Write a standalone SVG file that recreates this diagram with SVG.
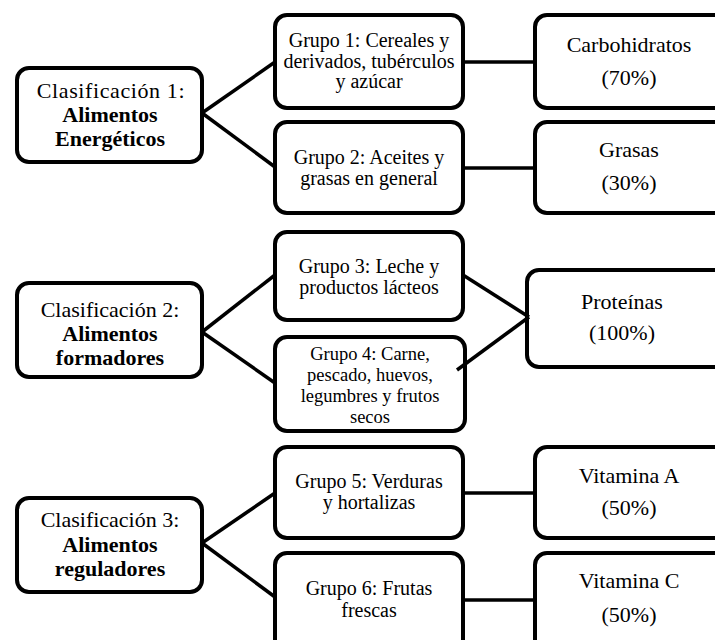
<svg xmlns="http://www.w3.org/2000/svg" width="715" height="640" viewBox="0 0 715 640">
<style>
.box{fill:#fff;stroke:#000;stroke-width:4}
.t{font-family:"Liberation Serif","Times New Roman",serif;font-size:22px;fill:#000;text-anchor:middle}
.g{font-size:20px}
.s{font-size:18.5px}
.b{font-weight:bold}
.ln{stroke:#000;stroke-width:3.5;fill:none}
</style>
<rect width="715" height="640" fill="#fff"/>
<g id="clasif1">
<rect class="box" x="17" y="68" width="185" height="94" rx="12"/>
<text class="t" x="111" y="98" letter-spacing="0.6">Clasificación 1:</text>
<text class="t b" x="110" y="122">Alimentos</text>
<text class="t b" x="110" y="146">Energéticos</text>
</g>
<g id="grupo1">
<rect class="box" x="275" y="15" width="188" height="93" rx="12"/>
<text class="t g" x="369" y="47">Grupo 1: Cereales y</text>
<text class="t g" x="369" y="68">derivados, tubérculos</text>
<text class="t g" x="369" y="88">y azúcar</text>
</g>
<g id="grupo2">
<rect class="box" x="275" y="122" width="188" height="91" rx="12"/>
<text class="t g" x="369" y="164">Grupo 2: Aceites y</text>
<text class="t g" x="369" y="185">grasas en general</text>
</g>
<g id="carbohidratos">
<rect class="box" x="535" y="15" width="192" height="93" rx="12"/>
<text class="t" x="629" y="52">Carbohidratos</text>
<text class="t" x="629" y="85">(70%)</text>
</g>
<g id="grasas">
<rect class="box" x="535" y="122" width="192" height="91" rx="12"/>
<text class="t" x="629" y="157">Grasas</text>
<text class="t" x="629" y="190">(30%)</text>
</g>
<g id="clasif2">
<rect class="box" x="17" y="283" width="185" height="94" rx="12"/>
<text class="t" x="110" y="317">Clasificación 2:</text>
<text class="t b" x="110" y="341">Alimentos</text>
<text class="t b" x="110" y="365">formadores</text>
</g>
<g id="grupo3">
<rect class="box" x="275" y="232" width="188" height="88" rx="12"/>
<text class="t g" x="369" y="273">Grupo 3: Leche y</text>
<text class="t g" x="369" y="294">productos lácteos</text>
</g>
<g id="grupo4">
<rect class="box" x="275" y="337" width="190" height="94" rx="12"/>
<text class="t s" x="370" y="360">Grupo 4: Carne,</text>
<text class="t s" x="370" y="381">pescado, huevos,</text>
<text class="t s" x="370" y="402">legumbres y frutos</text>
<text class="t s" x="370" y="423">secos</text>
</g>
<g id="proteinas">
<rect class="box" x="527" y="270" width="200" height="97" rx="12"/>
<text class="t" x="622" y="309">Proteínas</text>
<text class="t" x="622" y="340">(100%)</text>
</g>
<g id="clasif3">
<rect class="box" x="17" y="498" width="185" height="94" rx="12"/>
<text class="t" x="110" y="527">Clasificación 3:</text>
<text class="t b" x="110" y="552">Alimentos</text>
<text class="t b" x="110" y="576">reguladores</text>
</g>
<g id="grupo5">
<rect class="box" x="275" y="447" width="188" height="91" rx="12"/>
<text class="t g" x="369" y="488">Grupo 5: Verduras</text>
<text class="t g" x="369" y="509">y hortalizas</text>
</g>
<g id="grupo6">
<rect class="box" x="275" y="553" width="188" height="100" rx="12"/>
<text class="t g" x="369" y="595">Grupo 6: Frutas</text>
<text class="t g" x="369" y="617">frescas</text>
</g>
<g id="vitaminaA">
<rect class="box" x="535" y="447" width="192" height="91" rx="12"/>
<text class="t" x="629" y="483">Vitamina A</text>
<text class="t" x="629" y="515">(50%)</text>
</g>
<g id="vitaminaC">
<rect class="box" x="535" y="553" width="192" height="100" rx="12"/>
<text class="t" x="629" y="588">Vitamina C</text>
<text class="t" x="629" y="622">(50%)</text>
</g>
<g id="connectors">
<line class="ln" x1="202" y1="113" x2="275" y2="62"/>
<line class="ln" x1="202" y1="113" x2="275" y2="167"/>
<line class="ln" x1="463" y1="62" x2="535" y2="62"/>
<line class="ln" x1="463" y1="168" x2="535" y2="168"/>
<line class="ln" x1="202" y1="332" x2="275" y2="275"/>
<line class="ln" x1="202" y1="332" x2="275" y2="383"/>
<line class="ln" x1="463" y1="275" x2="529" y2="317"/>
<line class="ln" x1="457" y1="370" x2="529" y2="317"/>
<line class="ln" x1="202" y1="543" x2="275" y2="493"/>
<line class="ln" x1="202" y1="543" x2="275" y2="597"/>
<line class="ln" x1="463" y1="493" x2="535" y2="493"/>
<line class="ln" x1="463" y1="600" x2="535" y2="600"/>
</g>
</svg>
